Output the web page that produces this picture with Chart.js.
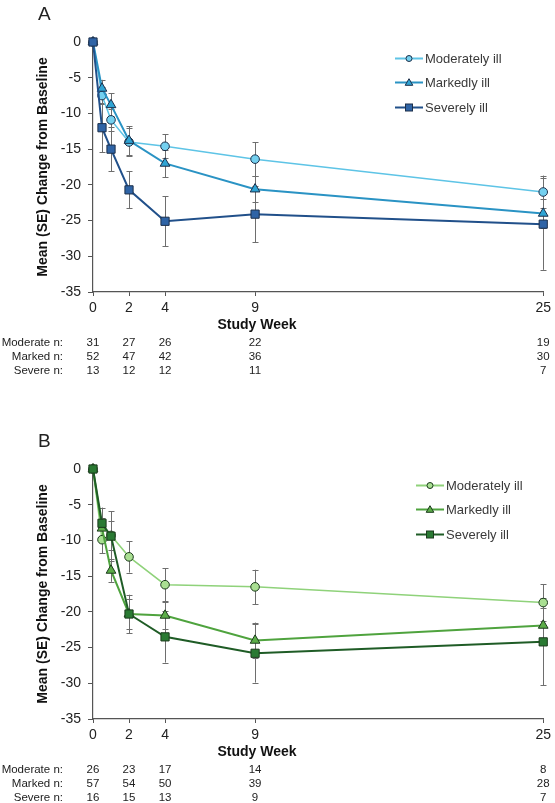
<!DOCTYPE html>
<html>
<head>
<meta charset="utf-8">
<script src="https://cdn.jsdelivr.net/npm/chart.js@4.4.1/dist/chart.umd.min.js"></script>
<style>
  body { margin: 0; background: #fff; font-family: "Liberation Sans", Arial, sans-serif; }
  #page { position: relative; width: 555px; height: 803px; overflow: hidden; }
  .panel { position: absolute; left: 0; width: 555px; height: 376px; }
  .panel canvas { position: absolute; left: 0; top: 0; }
  .txt { position: absolute; white-space: nowrap; line-height: 1; }
  .tag { font-size: 19px; color: #222; }
  .xtitle { font-size: 14px; font-weight: bold; color: #111; transform: translate(-50%, -50%); }
  .nlab { font-size: 11.5px; color: #222; text-align: right; width: 63px; left: 0; transform: translateY(-50%); }
  .nval { font-size: 11.5px; color: #222; transform: translate(-50%, -50%); }
  .leg { position: absolute; display: flex; align-items: center; font-size: 13px; color: #3a3a3a; transform: translateY(-50%); }
  .leg svg { margin-right: 2px; }
</style>
</head>
<body>
<div id="page"></div>
<script>
// study weeks at which the means were measured
const weeks = [0, 0.5, 1, 2, 4, 9, 25];
const weekTicks = [0, 2, 4, 9, 25];
const seriesNames = ["Moderately ill", "Markedly ill", "Severely ill"];
const rowNames = ["Moderate n:", "Marked n:", "Severe n:"];

// panel A
const aModerate = [0, -7.5, -10.9, -14.0, -14.6, -16.4, -21.0];
const aModerateSE = [0, 1.2, 1.5, 2.0, 1.7, 2.4, 2.3];
const aMarked = [0, -6.5, -8.8, -13.8, -17.0, -20.6, -24.0];
const aMarkedSE = [0, 1.2, 1.6, 2.0, 1.9, 1.8, 2.0];
const aSevere = [0, -12.0, -15.0, -20.7, -25.1, -24.1, -25.5];
const aSevereSE = [0, 3.4, 3.1, 2.6, 3.5, 3.9, 6.4];
const aModerateN = [31, 27, 26, 22, 19];
const aMarkedN = [52, 47, 42, 36, 30];
const aSevereN = [13, 12, 12, 11, 7];

// panel B
const bModerate = [0, -9.9, -9.3, -12.3, -16.2, -16.5, -18.7];
const bModerateSE = [0, 1.9, 2.0, 2.2, 2.3, 2.4, 2.6];
const bMarked = [0, -8.3, -14.2, -20.3, -20.5, -24.0, -21.9];
const bMarkedSE = [0, 1.5, 1.6, 2.1, 1.9, 2.5, 2.5];
const bSevere = [0, -7.6, -9.4, -20.3, -23.5, -25.8, -24.2];
const bSevereSE = [0, 2.2, 3.5, 2.7, 3.6, 4.1, 6.1];
const bModerateN = [26, 23, 17, 14, 8];
const bMarkedN = [57, 54, 50, 39, 28];
const bSevereN = [16, 15, 13, 9, 7];

const FONT = "'Liberation Sans', Arial, sans-serif";
const shapes = ["circle", "triangle", "rect"];
const radii = [4.3, 5.6, 5.8];
const widths = [1.5, 2, 2];

// draw the SE whiskers under the lines
const errorBars = {
  id: "errorBars",
  beforeDatasetsDraw(chart) {
    const { ctx, scales: { x, y } } = chart;
    ctx.save();
    ctx.strokeStyle = "#6e6e6e";
    ctx.lineWidth = 1;
    chart.data.datasets.forEach((ds) => {
      ds.data.forEach((p, i) => {
        const se = ds.se[i];
        if (!se) return;
        const px = Math.round(x.getPixelForValue(p.x)) + 0.5;
        const t = y.getPixelForValue(p.y + se);
        const b = y.getPixelForValue(p.y - se);
        ctx.beginPath();
        ctx.moveTo(px, t); ctx.lineTo(px, b);
        ctx.moveTo(px - 3, Math.round(t) + 0.5); ctx.lineTo(px + 3, Math.round(t) + 0.5);
        ctx.moveTo(px - 3, Math.round(b) + 0.5); ctx.lineTo(px + 3, Math.round(b) + 0.5);
        ctx.stroke();
      });
    });
    ctx.restore();
  },
};

function symbol(shape, line, fill, edge) {
  let m = "";
  if (shape === "circle") m = `<circle cx="14" cy="6" r="3" fill="${fill}" stroke="${edge}" stroke-width="1"/>`;
  if (shape === "triangle") m = `<polygon points="14,2.2 17.8,8.8 10.2,8.8" fill="${fill}" stroke="${edge}" stroke-width="1"/>`;
  if (shape === "rect") m = `<rect x="10.5" y="2.5" width="7" height="7" fill="${fill}" stroke="${edge}" stroke-width="1"/>`;
  return `<svg width="28" height="12" viewBox="0 0 28 12"><line x1="0" y1="6" x2="28" y2="6" stroke="${line}" stroke-width="2"/>${m}</svg>`;
}

function makePanel(cfg) {
  const page = document.getElementById("page");
  const panel = document.createElement("div");
  panel.className = "panel";
  panel.style.top = cfg.top + "px";
  page.appendChild(panel);

  const canvas = document.createElement("canvas");
  canvas.width = 555;
  canvas.height = 335;
  panel.appendChild(canvas);

  const datasets = cfg.means.map((vals, k) => ({
    label: seriesNames[k],
    data: vals.map((v, i) => ({ x: weeks[i], y: v })),
    se: cfg.ses[k],
    borderColor: cfg.lines[k],
    backgroundColor: cfg.fills[k],
    pointBackgroundColor: cfg.fills[k],
    pointBorderColor: cfg.edge,
    pointBorderWidth: 1,
    pointStyle: shapes[k],
    pointRadius: radii[k],
    borderWidth: widths[k],
    tension: 0,
    clip: false,
    order: 3 - k,
  }));

  const chart = new Chart(canvas, {
    type: "line",
    data: { datasets },
    plugins: [errorBars],
    options: {
      responsive: false,
      animation: false,
      devicePixelRatio: 1,
      layout: { padding: { top: 42, right: 10, left: 0, bottom: 0 } },
      plugins: { legend: { display: false }, tooltip: { enabled: false } },
      scales: {
        x: {
          type: "linear",
          min: 0,
          max: 25,
          afterBuildTicks: (s) => { s.ticks = weekTicks.map((v) => ({ value: v })); },
          afterFit: (s) => { s.height = 43; },
          border: { color: "#555", width: 1.2 },
          grid: { drawOnChartArea: false, drawTicks: true, tickLength: 4, color: "#555" },
          ticks: { font: { family: FONT, size: 14 }, color: "#222", padding: 4, maxRotation: 0, autoSkip: false },
        },
        y: {
          min: -35,
          max: 0,
          afterFit: (s) => { s.width = 93; },
          border: { color: "#555", width: 1.2 },
          grid: { drawOnChartArea: false, drawTicks: true, tickLength: 5, color: "#555" },
          ticks: { stepSize: 5, font: { family: FONT, size: 14 }, color: "#222", padding: 7 },
          title: {
            display: true,
            text: "Mean (SE) Change from Baseline",
            font: { family: FONT, size: 14, weight: "bold" },
            color: "#111",
            padding: { top: 35, bottom: 0 },
          },
        },
      },
    },
  });

  const add = (cls, text, css) => {
    const d = document.createElement("div");
    d.className = "txt " + cls;
    d.textContent = text;
    Object.assign(d.style, css);
    panel.appendChild(d);
    return d;
  };

  add("tag", cfg.tag, { left: "38px", top: "4px" });
  add("xtitle", "Study Week", { left: "257px", top: "324px" });

  const xs = chart.scales.x;
  const rowY = [343, 357, 371];
  cfg.counts.forEach((row, r) => {
    add("nlab", rowNames[r], { top: rowY[r] + "px" });
    row.forEach((n, i) => {
      add("nval", String(n), { left: xs.getPixelForValue(weekTicks[i]) + "px", top: rowY[r] + "px" });
    });
  });

  const legY = [58, 82, 107];
  seriesNames.forEach((name, k) => {
    const d = document.createElement("div");
    d.className = "leg";
    d.style.left = cfg.legX + "px";
    d.style.top = legY[k] + "px";
    d.innerHTML = symbol(shapes[k], cfg.lines[k], cfg.fills[k], cfg.edge) + "<span>" + name + "</span>";
    panel.appendChild(d);
  });
}

makePanel({
  tag: "A",
  top: 0,
  legX: 395,
  means: [aModerate, aMarked, aSevere],
  ses: [aModerateSE, aMarkedSE, aSevereSE],
  counts: [aModerateN, aMarkedN, aSevereN],
  lines: ["#5ec4e6", "#2a93c4", "#21508a"],
  fills: ["#74d0ef", "#2fa4d4", "#2f64a6"],
  edge: "#1c2f4a",
});

makePanel({
  tag: "B",
  top: 427,
  legX: 416,
  means: [bModerate, bMarked, bSevere],
  ses: [bModerateSE, bMarkedSE, bSevereSE],
  counts: [bModerateN, bMarkedN, bSevereN],
  lines: ["#8fd27a", "#4fa33e", "#1f5c26"],
  fills: ["#a9df92", "#5cad49", "#2a7a33"],
  edge: "#1b3a1c",
});
</script>
</body>
</html>
